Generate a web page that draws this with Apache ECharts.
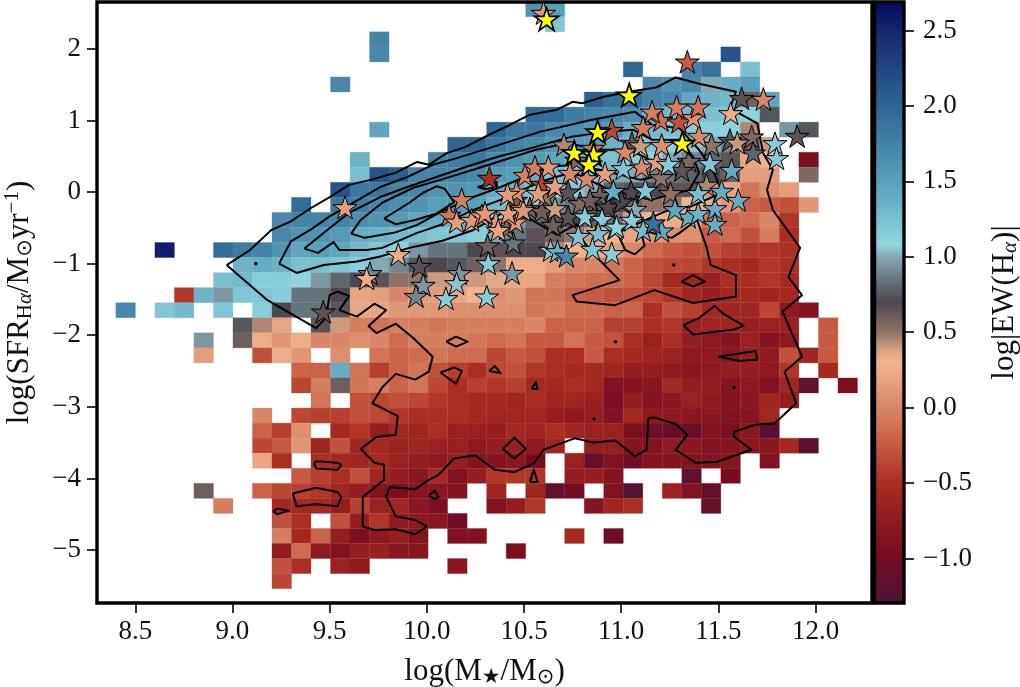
<!DOCTYPE html>
<html>
<head>
<meta charset="utf-8">
<style>
  html, body { margin: 0; padding: 0; background: #fff; }
  #chart { width: 1020px; height: 687px; }
</style>
<script src="https://cdn.jsdelivr.net/npm/echarts@6/dist/echarts.min.js"></script>
</head>
<body>
<div id="chart"></div>
<script>
const xTicks = [8.5, 9, 9.5, 10, 10.5, 11, 11.5, 12];
const yTicks = [-5, -4, -3, -2, -1, 0, 1, 2];
const barTicks = [-1, -0.5, 0, 0.5, 1, 1.5, 2, 2.5];

// colour scale: log|EW| -> colour
const cmapValues = [-1.295, -1, -0.75, -0.5, -0.25, 0, 0.3, 0.38, 0.5, 0.7, 0.85, 1, 1.08, 1.5, 2, 2.5, 2.689];
const cmapColors = ['#4a1538', '#760c22', '#8e1a1f', '#aa2e22', '#c65a42', '#d98768', '#f0b48f', '#d8a283', '#8e7468',
  '#4d4850', '#66757c', '#85a8b3', '#92d5e0', '#5a9fb9', '#2f6694', '#14266f', '#040b60'];

// 2d histogram bins
const binX0 = 8.4;
const binDX = 0.1004;
const binYTop = 2.658;
const binDY = 0.2102;

// rows from the top, each row a list of runs [first column, values...]
const ewRows = [
  [[21, 1.6, 1.5]],
  [[22, 1.2]],
  [[13, 1.75]],
  [[13, 1.7], [31, 2.15]],
  [[26, 2.0], [29, 1.75, 1.9], [32, 1.25]],
  [[11, 1.7], [27, 1.7, 1.6, 1.7, 1.0, 1.4, 1.5]],
  [[24, 2.05, 1.9, 1.9, 1.75, 1.7, 1.45, 1.35, 1.3, .6, 1.45]],
  [[21, 1.95, 1.95, 1.8, 1.75, 1.7, 1.65, 1.4, 1.3, 1.3, 1.25, 1.2, 1.1, .75]],
  [[13, 1.45], [19, 2.0, 1.85, 1.85, 1.7, 1.65, 1.6, 1.55, 1.4, 1.3, 1.25, 1.15, 1.15, 1.1, .45], [34, .95, .75]],
  [[17, 2.0, 2.0, 1.85, 1.75, 1.7, 1.6, 1.55, 1.5, 1.35, 1.3, 1.2, 1.1, 1.05, 1.0, .9, .6, .4]],
  [[12, 1.35], [16, 1.75, 1.8, 1.85, 1.7, 1.6, 1.55, 1.45, 1.4, 1.3, 1.25, 1.15, 1.1, 1.0, .9, .8, .65, .2, .3], [35, -.95]],
  [[12, 1.25, 2.15, 2.05, 1.75, 1.75, 1.75, 1.7, 1.55, 1.5, 1.4, 1.25, 1.2, 1.15, 1.0, 1.0, .9, .85, .8, .7, .6, .15, .15], [35, .55]],
  [[11, 2.15, 1.85, 1.85, 1.75, 1.7, 1.6, 1.6, 1.55, 1.4, 1.35, 1.2, 1.1, 1.05, 1.0, .8, .75, .7, .65, .65, .4, .2, -.1, .05, .15]],
  [[9, 1.95], [11, 1.85, 1.8, 1.7, 1.65, 1.6, 1.5, 1.5, 1.5, 1.3, 1.15, 1.05, .9, .85, .8, .7, .6, .5, .5, .3, .25, .1, -.2, -.25, -.3, .1]],
  [[8, 1.7, 1.75, 1.75, 1.75, 1.65, 1.6, 1.55, 1.45, 1.4, 1.4, 1.35, 1.15, .95, .8, .75, .7, .6, .55, .4, .3, .25, .2, -.1, -.2, -.15, 0, -.45]],
  [[8, 1.7, 1.6, 1.6, 1.55, 1.4, 1.35, 1.3, 1.25, 1.2, 1.2, 1.15, 1.0, .85, .65, .6, .5, .4, .3, .2, .1, .05, .05, -.25, -.15, -.3, -.05, -.5]],
  [[2, 2.55], [5, 1.95, 1.8, 1.75, 1.6, 1.45, 1.5, 1.45, 1.3, 1.2, 1.1, .95, .85, .85, .7, .65, .7, .7, .45, .3, .25, .15, 0, -.15, -.25, -.3, -.3, -.4, -.45, -.45, -.5]],
  [[6, 1.35, 1.4, 1.35, 1.25, 1.25, 1.2, 1.15, 1.0, .9, .75, .7, .75, .6, .5, .25, .25, .15, 0, 0, -.1, -.2, -.3, -.35, -.35, -.45, -.5, -.55, -.45, -.5]],
  [[5, 1.25, 1.3, 1.15, 1.15, 1.1, .95, .8, .7, .65, .5, .5, .4, .4, .4, .35, .2, .2, -.05, -.1, -.15, -.15, -.2, -.35, -.55, -.6, -.65, -.5, -.5, -.45, -.55]],
  [[3, -.45, 1.35, .95, 1.2, 1.2, 1.15, .85, .85, .7, .2, .15, 0, .1, .15, .2, .3, .05, .1, -.1, -.1, -.2, -.25, -.3, -.3, -.35, -.45, -.6, -.65, -.55, -.55, -.6, -.55]],
  [[0, 1.7], [2, 1.2, 1.3], [5, 1.2], [7, 1.15, .7, .85, .85, .65, .35, .2, .1, .1, .1, .05, .05, .05, .05, -.1, -.05, -.15, -.15, -.2, -.2, -.5, -.3, -.4, -.55, -.6, -.6, -.35, -.75, -.85]],
  [[6, .75, .45, .2], [10, .65, .4, -.05, -.1, -.05, -.05, -.1, -.05, -.05, -.05, -.05, 0, -.2, -.2, -.2, -.4, -.4, -.5, -.45, -.65, -.6, -.6, -.65, -.65, -.65], [36, -.25]],
  [[4, .95], [6, .6, .25, .1, .25, 0, 0, .05, 0, -.15, -.05, -.05, -.05, -.1, -.15, -.1, -.25, -.25, -.1, -.25, -.3, -.5, -.65, -.5, -.7, -.75, -.85, -.65, -.85, -.75], [36, -.25]],
  [[4, .15], [7, -.3, .25, .1], [11, .05], [13, -.1, -.2, -.15, -.1, -.15, -.15, -.35, -.25, -.3, -.5, -.5, -.25, -.5, -.55, -.6, -.65, -.75, -.75, -.8, -.7, -.75, -.3, -.6, -.25]],
  [[9, -.2, -.2, 1.4, -.1, -.4, -.2, -.1, -.3, -.4, -.5, -.35, -.3, -.45, -.5, -.55, -.55, -.6, -.7, -.7, -.75, -.8, -.75, -.7, -.7, -.75, -.45], [36, -.55]],
  [[9, -.35, -.05, .6, -.1, -.05, -.2, -.1, -.35, -.5, -.4, -.45, -.4, -.55, -.55, -.5, -.55, -.9, -.85, -.8, -.55, -.7, -.7, -.85, -.75, -.9, -.6, -1.15], [37, -.95]],
  [[10, -.1], [12, -.3, -.35, -.3, -.35, -.45, -.5, -.55, -.55, -.6, -.5, -.6, -.6, -.65, -.95, -.7, -.85, -.8, -.65, -.75, -.85, -.8, -.6, -.7]],
  [[7, 0], [9, -.35, -.4, -.4, -.3, -.35, -.45, -.5, -.5, -.5, -.55, -.6, -.6, -.6, -.7, -.75, -.7, -.9, -.55, -.75, -.8, -.8, -.8, -.9, -.85, -.6]],
  [[7, -.2, -.4, .05], [11, -.55, -.45, -.7, -.55, -.6, -.5, -.65, -.65, -.7, -.55, -.6, -.5, -.6, -.65, -.65, -.95, -1.05, -1.1, -1.1, -.9, -.95, -.8, -1.2]],
  [[7, -.35, -.25, .1, -.6, -.3, -.6, -.55, -.65, -.6, -.65, -.65, -.75, -.7, -.65, -.75, -.6], [24, -.7, -.7, -.85, -.9, -.75, -.8, -.9, -.85, -.8, -.8, -.55, -1.2]],
  [[7, .2, -.5], [10, -.5, -.55, -.6, -.55, -.65, -.7, -.75, -.7, -.85, -.85, -.8, -1.0], [23, -.65, -1.1, -.9, -1.05, -.85, -.85, -.85, -.85, -.85], [33, -.9]],
  [[9, -.25, -.4, -.5, -.3, -.6, -.7, -.8, -.55, -.9, -.7, -.45, -.45, -.45], [23, -.7, -.7, -.85], [29, -1.15], [31, -1.0]],
  [[4, .6], [7, -.2, -.35, -.4, -.45, -.6, -.7, -.85, -.95, -.85, -.8, -.85], [19, -.6], [21, -.6, -1.15, -1.0], [25, -.9, -1.25], [28, -.65, -.9, -1.1]],
  [[5, -.05], [8, -.55, -.55, -.55, -.7, -.4, -.65, -.6, -.8, -.95], [19, -.85, -.7, -.45], [24, -.85, -.6, -.5], [30, -1.1]],
  [[8, -.3, -.5], [11, -.3, -.7, -.45, -.75, -.75, -.8, -1.05]],
  [[8, -.05, -.55, -.2, -.7, -.95, -.75, -.7, -.85], [17, -.9, -.9], [23, -.55], [25, -1.05]],
  [[8, -.7, -.15, -.75, -.9, -.7, -.65, -.8, -.8], [20, -.95]],
  [[8, -.3, -.5], [11, -.65, -.75], [17, -.8]],
  [[8, -.35]]
];

// density contours
const contourOuter = [[8.97,-1.02],[9.09,-.81],[9.20,-.53],[9.30,-.41],[9.40,-.23],[9.50,-.07],[9.60,.10],[9.71,.17],[9.84,.27],[9.95,.42],[10.01,.38],[10.10,.54],[10.20,.63],[10.32,.80],[10.43,.94],[10.53,1.08],[10.67,1.15],[10.75,1.26],[10.80,1.24],[10.91,1.33],[11.04,1.40],[11.18,1.46],[11.28,1.60],[11.39,1.52],[11.59,1.40],[11.56,1.17],[11.70,.96],[11.73,.54],[11.78,.31],[11.75,.03],[11.78,-.25],[11.92,-.78],[11.86,-1.19],[11.93,-1.44],[11.83,-1.67],[11.93,-2.30],[11.84,-2.51],[11.90,-2.95],[11.79,-3.23],[11.69,-3.25],[11.58,-3.35],[11.58,-3.42],[11.67,-3.60],[11.49,-3.77],[11.38,-3.78],[11.28,-3.60],[11.34,-3.39],[11.28,-3.24],[11.17,-3.15],[11.14,-3.16],[11.13,-3.60],[11.07,-3.69],[10.97,-3.47],[10.86,-3.50],[10.76,-3.44],[10.60,-3.60],[10.55,-3.79],[10.45,-3.91],[10.35,-3.88],[10.25,-3.68],[10.14,-3.72],[10.06,-3.95],[10.01,-4.02],[9.94,-4.15],[9.81,-4.12],[9.79,-4.25],[9.84,-4.53],[9.94,-4.58],[10.00,-4.67],[9.94,-4.78],[9.84,-4.71],[9.73,-4.72],[9.67,-4.67],[9.67,-4.26],[9.78,-4.02],[9.78,-3.81],[9.73,-3.78],[9.66,-3.59],[9.74,-3.42],[9.84,-3.39],[9.85,-3.13],[9.72,-2.95],[9.77,-2.73],[9.84,-2.54],[9.94,-2.62],[10.01,-2.51],[10.03,-2.30],[9.93,-2.04],[9.84,-1.84],[9.74,-1.97],[9.70,-1.87],[9.79,-1.65],[9.73,-1.56],[9.64,-1.74],[9.55,-1.65],[9.60,-1.45],[9.54,-1.39],[9.50,-1.44],[9.48,-1.76],[9.43,-1.90],[9.18,-1.51]];
const contourSecond = [[9.24,-1.00],[9.30,-.69],[9.40,-.53],[9.50,-.34],[9.62,-.15],[9.76,.07],[9.90,.21],[10.03,.38],[10.15,.47],[10.34,.63],[10.58,.84],[10.85,1.01],[11.07,1.12],[11.16,.94],[11.30,.89],[11.40,.59],[11.47,.31],[11.52,0],[11.47,-.07],[11.35,-.21],[11.28,-.21],[11.15,-.36],[10.98,-.57],[11.02,-.81],[11.07,-.87],[11.12,-.75],[11.10,-.53],[11.26,-.64],[11.30,-.57],[11.39,-.39],[11.44,-.78],[11.46,-1.02],[11.59,-1.16],[11.59,-1.46],[11.37,-1.55],[11.17,-1.37],[10.97,-1.58],[10.77,-1.53],[10.75,-1.44],[10.99,-1.23],[10.87,-.90],[10.80,-.67],[10.77,-.45],[10.67,-.60],[10.51,-.34],[10.39,-.29],[10.24,-.53],[10.08,-.68],[9.91,-.78],[9.76,-.90],[9.64,-.97],[9.47,-1.02],[9.33,-1.13]];
const contourThird = [[9.37,-.79],[9.47,-.57],[9.60,-.29],[9.76,-.07],[9.90,.07],[10.05,.21],[10.20,.35],[10.36,.49],[10.53,.61],[10.74,.77],[10.91,.84],[11.06,.87],[11.16,.73],[11.30,.73],[11.37,.49],[11.40,.27],[11.35,.03],[11.15,-.11],[10.94,.03],[10.75,.28],[10.58,.14],[10.38,-.11],[10.24,-.25],[10.07,-.46],[9.95,-.57],[9.77,-.78],[9.69,-.81],[9.55,-.81],[9.52,-.70],[9.44,-.85]];
const contourFourth = [[9.61,-.58],[9.66,-.39],[9.77,-.15],[9.93,.06],[10.07,.17],[10.32,.38],[10.56,.59],[10.72,.68],[10.89,.59],[11.04,.59],[11.15,.45],[11.22,.24],[11.10,.17],[10.89,.31],[10.75,.38],[10.63,.35],[10.38,.07],[10.24,-.07],[10.07,-.28],[9.95,-.46],[9.83,-.57],[9.68,-.64]];
const contourFifth = [[9.78,-.37],[9.91,-.15],[9.98,-.01],[10.05,.08],[10.09,.05],[10.14,-.14],[10.05,-.30],[9.94,-.39],[9.84,-.45]];
const contourIslands = [
  [[10.10,-2.09],[10.15,-2.02],[10.21,-2.09],[10.15,-2.16]],
  [[10.07,-2.52],[10.14,-2.45],[10.18,-2.50],[10.15,-2.68]],
  [[9.42,-3.79],[9.43,-3.76],[9.54,-3.78],[9.56,-3.81],[9.54,-3.88],[9.43,-3.86]],
  [[9.31,-4.21],[9.43,-4.13],[9.54,-4.19],[9.56,-4.26],[9.54,-4.39],[9.43,-4.36],[9.33,-4.39]],
  [[9.21,-4.46],[9.23,-4.42],[9.29,-4.45],[9.23,-4.50]],
  [[10.01,-4.24],[10.04,-4.17],[10.06,-4.26],[10.04,-4.29]],
  [[10.32,-2.50],[10.35,-2.43],[10.38,-2.53]],
  [[10.54,-2.75],[10.56,-2.65],[10.57,-2.75]],
  [[10.39,-3.59],[10.45,-3.43],[10.51,-3.59],[10.45,-3.72]],
  [[10.53,-4.05],[10.55,-3.88],[10.57,-4.05]],
  [[11.32,-1.86],[11.40,-1.76],[11.48,-1.59],[11.52,-1.69],[11.63,-1.87],[11.58,-1.92],[11.37,-1.99]],
  [[11.31,-1.25],[11.37,-1.16],[11.43,-1.25],[11.37,-1.32]],
  [[11.50,-2.30],[11.69,-2.22],[11.70,-2.34],[11.61,-2.36]],
  [[10.26,.07],[10.36,.14],[10.36,.07],[10.30,.04]]
];
const contourDots = [[10.97,-2.09],[10.86,-3.17],[11.58,-2.73],[11.27,-1.02],[9.12,-1.00]];

// galaxies: mass, sfr, log|EW|
const galaxies = [
  [10.312,-.747,.6],[10.444,-.708,.85],[9.961,-1.034,.65],[9.467,-1.672,.65],[9.707,-1.135,.9],[9.690,-1.205,.25],
  [10.705,.663,.45],[10.649,-.461,.6],[10.530,-.228,.6],[10.591,-.265,.6],[10.727,-.345,.65],[10.865,-.297,.7],
  [10.410,-.507,.55],[10.458,-.112,.6],[10.727,.004,.65],[10.788,-.158,.55],[10.890,-.042,.6],[10.932,-.205,.7],
  [10.839,-.112,.6],[10.770,.447,.55],[11.055,.684,.65],[11.050,.004,.7],[11.002,-.135,.7],[11.253,-.018,.5],
  [11.204,.205,.5],[11.348,.433,.55],[11.311,.307,.65],[11.439,.098,.45],[11.465,.656,.5],[11.559,.726,.75],
  [11.671,.772,.55],[11.679,.549,.8],[11.597,.689,.4],[11.619,1.309,.65],[11.905,.782,.65],[10.61,-.06,.5],
  [10.115,-.321,-.1],[10.179,-.102,-.05],[10.153,-.415,.15],[10.230,-.391,.1],[10.283,-.328,.15],[10.355,-.419,.1],
  [10.299,-.293,.1],[10.367,-.531,.2],[10.458,-.415,.1],[10.419,-.297,.15],[10.488,-.228,.2],[10.496,-.251,.1],
  [10.462,.004,.05],[10.415,-.028,.15],[10.322,.196,-.5],[10.505,.237,-.05],[10.556,.353,-.05],[10.625,.353,.1],
  [10.590,.112,-.4],[10.659,.084,.15],[10.573,-.018,.15],[10.736,.265,0],[10.822,.191,0],[10.916,.261,.15],
  [10.659,-.228,.4],[9.579,-.214,.15],[9.853,-.870,.25],
  [11.019,.563,0],[11.099,.649,.4],[11.105,.353,0],[11.182,.419,.15],[11.208,.656,.05],[11.400,.782,0],
  [10.854,.615,-.1],[10.951,.866,-.35],[11.113,.904,-.05],[11.204,1.006,-.15],[11.297,.982,-.3],[11.370,1.043,.05],
  [11.159,1.121,-.05],[11.285,1.191,-.05],[11.396,1.191,-.1],[11.340,1.820,-.25],[11.563,1.099,.25],[11.731,1.299,0],
  [10.167,-1.135,.95],[9.981,-1.299,.95],[9.944,-1.453,.9],[10.153,-1.275,1.05],[10.098,-1.485,1.15],[10.308,-1.462,1.15],
  [10.316,-.996,1.15],[10.438,-1.131,.95],[10.813,-.342,1.15],[10.901,-.377,1.15],[10.968,-.507,1.15],[10.882,-.577,1.25],
  [10.779,-.615,1.2],[10.636,-.810,1.05],[10.672,-.828,1.35],[10.718,-.891,1.7],[10.852,-.796,1.2],[10.951,-.856,1.15],
  [10.959,.014,1.4],[11.010,.331,1.2],[11.070,-.237,1.0],[11.124,.028,1.2],[11.242,.391,1.15],[11.456,.401,1.2],
  [11.396,-.018,1.25],[11.345,-.345,1.4],[11.396,-.297,1.35],[11.276,-.242,1.45],[11.482,-.228,1.4],[11.482,-.447,1.4],
  [11.516,.014,1.4],[11.568,.307,1.4],[11.602,-.112,1.4],[11.053,-.391,1.15],[10.976,-.485,1.1],[11.113,-.531,1.3],
  [11.208,-.540,1.45],[11.165,-.429,1.9],[11.791,.680,1.15],[11.799,.471,1.15],
  [10.60,2.50,.15]
];
const yellowGalaxies = [[10.616,2.416],[11.041,1.355],[11.314,.680],[10.879,.842],[10.758,.552],[10.858,.527],[10.834,.391]];

const serif = "'Liberation Serif', 'DejaVu Serif', serif";
const starPath = 'path://M50 0L61.23 34.55L97.55 34.55L68.16 55.9L79.39 90.45L50 69.1L20.61 90.45L31.84 55.9L2.45 34.55L38.77 34.55Z';

const ewColor = (v) => {
  let i = 0;
  while (i < cmapValues.length - 2 && v > cmapValues[i + 1]) i++;
  const t = Math.max(0, Math.min(1, (v - cmapValues[i]) / (cmapValues[i + 1] - cmapValues[i])));
  const a = echarts.color.parse(cmapColors[i]);
  const b = echarts.color.parse(cmapColors[i + 1]);
  return `rgb(${a[0] + (b[0] - a[0]) * t},${a[1] + (b[1] - a[1]) * t},${a[2] + (b[2] - a[2]) * t})`;
};

const minus = (s) => String(s).replace('-', '\u2212');

const cells = [];
ewRows.forEach((row, r) => {
  row.forEach((run) => {
    run.slice(1).forEach((v, i) => {
      cells.push([binX0 + (run[0] + i) * binDX, binYTop - r * binDY, v]);
    });
  });
});

const renderCell = (params, api) => {
  const p0 = api.coord([api.value(0), api.value(1)]);
  const p1 = api.coord([api.value(0) + binDX, api.value(1) - binDY]);
  const rect = echarts.graphic.clipRectByRect(
    { x: p0[0], y: p0[1], width: p1[0] - p0[0], height: p1[1] - p0[1] },
    params.coordSys
  );
  if (!rect) return null;
  const fill = ewColor(api.value(2));
  return { type: 'rect', shape: rect, style: { fill, stroke: fill, lineWidth: 0.3 } };
};

const renderBar = (params, api) => {
  const p0 = api.coord([0, api.value(1)]);
  const p1 = api.coord([1, api.value(0)]);
  const span = cmapValues[cmapValues.length - 1] - cmapValues[0];
  const stops = cmapValues.map((v, i) => ({ offset: (cmapValues[cmapValues.length - 1] - v) / span, color: cmapColors[i] })).reverse();
  return {
    type: 'rect',
    shape: { x: p0[0], y: p0[1], width: p1[0] - p0[0], height: p1[1] - p0[1] },
    style: { fill: new echarts.graphic.LinearGradient(0, 0, 0, 1, stops) },
  };
};

const closed = (pts) => pts.concat([pts[0]]);
const contourSeries = [contourOuter, contourSecond, contourThird, contourFourth, contourFifth]
  .concat(contourIslands)
  .map((pts) => ({
    type: 'line',
    data: closed(pts),
    showSymbol: false,
    symbol: 'none',
    silent: true,
    z: 3,
    lineStyle: { color: '#000', width: 2, join: 'round' },
    animation: false,
  }));

const nameRich = {
  t: { fontFamily: serif, fontSize: 31, color: '#111' },
  s: { fontFamily: "'Liberation Serif', 'DejaVu Sans', serif", fontSize: 21, color: '#111', padding: [12, 0, 0, 0] },
  i: { fontFamily: serif, fontStyle: 'italic', fontSize: 21, color: '#111', padding: [12, 0, 0, 0] },
  p: { fontFamily: serif, fontSize: 21, color: '#111', padding: [0, 0, 14, 0] },
};

const tickStyle = { show: true, inside: false, length: 10, lineStyle: { color: '#000', width: 1.6 } };
const labelStyle = { fontFamily: serif, fontSize: 27, color: '#111' };

const chart = echarts.init(document.getElementById('chart'), null, { renderer: 'canvas' });
chart.setOption({
  animation: false,
  backgroundColor: '#fff',
  grid: [
    { left: 97, top: 2, width: 775, height: 601, outerBoundsMode: 'none', show: true, z: 10, backgroundColor: 'transparent', borderColor: '#000', borderWidth: 3.4 },
    { left: 874.5, top: 2, width: 29.5, height: 601, outerBoundsMode: 'none', show: true, z: 10, backgroundColor: 'transparent', borderColor: '#000', borderWidth: 3.4 },
  ],
  xAxis: [
    {
      type: 'value', gridIndex: 0, min: 8.303, max: 12.29, splitLine: { show: false }, axisLine: { show: false, onZero: false },
      axisTick: { ...tickStyle, customValues: xTicks },
      axisLabel: { ...labelStyle, margin: 15, customValues: xTicks, formatter: (v) => v.toFixed(1) },
      name: '{t|log(M}{s|\u2605}{t|/M}{s|\u2299}{t|)}', nameLocation: 'middle', nameGap: 52,
      nameTextStyle: { rich: nameRich },
    },
    { type: 'value', gridIndex: 1, min: 0, max: 1, show: false },
  ],
  yAxis: [
    {
      type: 'value', gridIndex: 0, min: -5.74, max: 2.654, splitLine: { show: false }, axisLine: { show: false, onZero: false },
      axisTick: { ...tickStyle, customValues: yTicks },
      axisLabel: { ...labelStyle, margin: 16, customValues: yTicks, formatter: (v) => minus(v) },
      name: '{t|log(SFR}{s|H}{i|\u03b1}{t|/M}{s|\u2299}{t|yr}{p|\u22121}{t|)}', nameLocation: 'middle', nameGap: 60,
      nameTextStyle: { rich: nameRich },
    },
    {
      type: 'value', gridIndex: 1, position: 'right', min: -1.295, max: 2.689, splitLine: { show: false }, axisLine: { show: false, onZero: false },
      axisTick: { ...tickStyle, customValues: barTicks },
      axisLabel: { ...labelStyle, margin: 19, customValues: barTicks, formatter: (v) => minus(v.toFixed(1)) },
      name: '{t|log|EW(H}{i|\u03b1}{t|)|}', nameLocation: 'middle', nameGap: 84, nameRotate: 90,
      nameTextStyle: { rich: nameRich },
    },
  ],
  series: [
    {
      type: 'custom', xAxisIndex: 0, yAxisIndex: 0, data: cells, renderItem: renderCell,
      encode: { x: 0, y: 1 }, silent: true, z: 1,
    },
    ...contourSeries,
    {
      type: 'scatter', xAxisIndex: 0, yAxisIndex: 0, data: contourDots, symbol: 'circle', symbolSize: 3.5,
      itemStyle: { color: '#000', opacity: 1 }, silent: true, z: 3,
    },
    {
      type: 'scatter', xAxisIndex: 0, yAxisIndex: 0, data: galaxies, symbol: starPath, symbolSize: 24, symbolKeepAspect: true,
      itemStyle: { color: (p) => ewColor(p.value[2]), borderColor: '#000', borderWidth: 1, opacity: 1 }, silent: true, z: 20, clip: false,
    },
    {
      type: 'scatter', xAxisIndex: 0, yAxisIndex: 0, data: yellowGalaxies, symbol: starPath, symbolSize: 24, symbolKeepAspect: true,
      itemStyle: { color: '#ffff00', borderColor: '#000', borderWidth: 1.7, opacity: 1 }, silent: true, z: 21, clip: false,
    },
    {
      type: 'custom', xAxisIndex: 1, yAxisIndex: 1, data: [[cmapValues[0], cmapValues[cmapValues.length - 1]]],
      renderItem: renderBar, silent: true, z: 1,
    },
  ],
});
</script>
</body>
</html>
